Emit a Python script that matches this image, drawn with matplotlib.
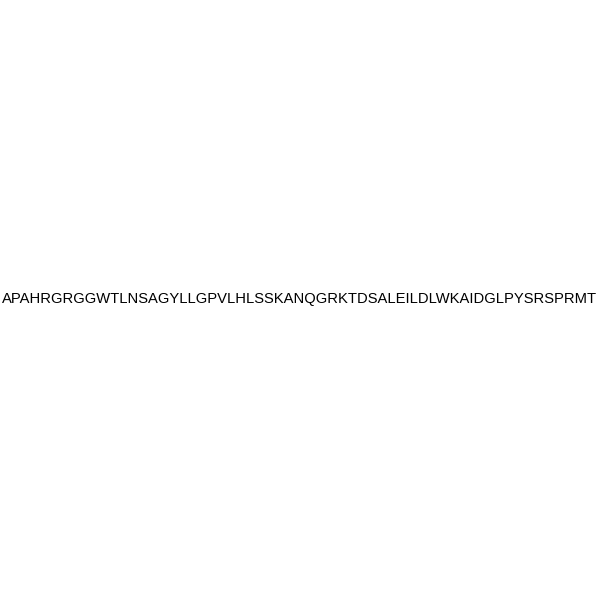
import matplotlib
matplotlib.use("Agg")
import matplotlib.pyplot as plt

sequence = "APAHRGRGGWTLNSAGYLLGPVLHLSSKANQGRKTDSALEILDLWKAIDGLPYSRSPRMT"
target_width_px = 595

fig = plt.figure(figsize=(6, 6), dpi=100)
fig.patch.set_facecolor("white")
t = fig.text(0.5, 1 - 299 / 600, sequence, ha="center", va="center",
             fontsize=10, family=["Liberation Sans", "DejaVu Sans"], color="black")
fig.canvas.draw()
w = t.get_window_extent().width
t.set_fontsize(10 * target_width_px / w)
fig.savefig("out.png", dpi=100, facecolor="white")
